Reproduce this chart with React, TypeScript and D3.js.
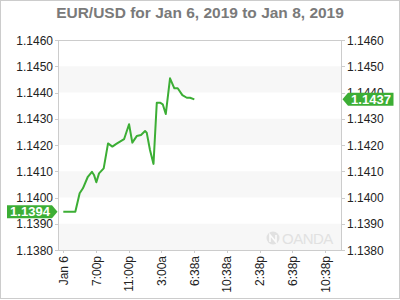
import React from "react";
import * as d3 from "d3";

const title = "EUR/USD for Jan 6, 2019 to Jan 8, 2019";
const xTickLabels = ["Jan 6", "7:00p", "11:00p", "3:00a", "6:38a", "10:38a", "2:38p", "6:38p", "10:38p"];
const xTickHours = [0, 4, 8, 12, 16, 20, 24, 28, 32];
const yTicks = [1.138, 1.139, 1.14, 1.141, 1.142, 1.143, 1.144, 1.145, 1.146];
const hours = [0, 1.47, 2.0, 2.4, 3.0, 3.5, 3.75, 4.04, 4.37, 4.94, 5.47, 6.0, 6.48, 7.43, 8.04, 8.44, 8.98, 9.5, 10.0, 10.2, 10.6, 11.03, 11.43, 11.83, 12.16, 12.53, 13.05, 13.58, 13.99, 14.56, 15.1, 15.5, 16.02];
const rates = [1.13946, 1.13946, 1.14016, 1.14035, 1.14079, 1.14098, 1.14086, 1.14058, 1.14092, 1.14111, 1.14206, 1.14194, 1.14204, 1.14222, 1.14279, 1.14209, 1.14234, 1.14238, 1.14253, 1.14247, 1.14181, 1.14128, 1.14361, 1.14361, 1.14355, 1.14318, 1.14454, 1.14416, 1.14416, 1.1439, 1.1438, 1.1438, 1.14374];
const openRate = 1.1394;
const lastRate = 1.1437;

const GREEN = "#3cae35";
const FONT = "Arial, 'Liberation Sans', sans-serif";

export default function App() {
  const W = 400, H = 300;
  const left = 58, right = 342, top = 40, bottom = 250;
  const x = d3.scaleLinear().domain([0, 32]).range([63.3, 325]);
  const y = d3.scaleLinear().domain([1.138, 1.146]).range([bottom, top]);
  const fmt = d3.format(".4f");
  const line = d3.line<number>().x((_, i) => x(hours[i])).y((d) => y(d));
  const bands = yTicks.filter((_, i) => i % 2 === 0 && i < yTicks.length - 1);

  const yOpen = y(rates[0]);
  const yLast = y(rates[rates.length - 1]);

  return (
    <svg width={W} height={H} style={{ position: "absolute", left: 0, top: 0 }} fontFamily={FONT}>
      <rect x={0} y={0} width={W} height={H} fill="#fff" />
      <rect x={0.5} y={0.5} width={W - 1} height={H - 2} fill="none" stroke="#cccccc" />
      <text x={200} y={18} textAnchor="middle" fontSize={15.5} fontWeight="bold" fill="#7a7a7a">{title}</text>
      {bands.map((b) => (
        <rect key={b} x={left} y={y(b + 0.001)} width={right - left} height={y(b) - y(b + 0.001)} fill="#f7f7f7" />
      ))}
      <rect x={left + 0.5} y={top + 0.5} width={right - left - 1} height={bottom - top} fill="none" stroke="#cccccc" />
      {yTicks.map((t) => (
        <g key={t}>
          <line x1={left - 3} x2={left} y1={Math.round(y(t)) + 0.5} y2={Math.round(y(t)) + 0.5} stroke="#cccccc" />
          <line x1={right} x2={right + 3} y1={Math.round(y(t)) + 0.5} y2={Math.round(y(t)) + 0.5} stroke="#cccccc" />
          <text x={53} y={y(t) + 4.5} textAnchor="end" fontSize={12} fill="#222">{fmt(t)}</text>
          <text x={347} y={y(t) + 4.5} textAnchor="start" fontSize={12} fill="#222">{fmt(t)}</text>
        </g>
      ))}
      {xTickHours.map((h, i) => (
        <g key={h}>
          <line x1={Math.round(x(h)) + 0.5} x2={Math.round(x(h)) + 0.5} y1={bottom} y2={bottom + 3} stroke="#cccccc" />
          <text transform={`translate(${x(h) + 4.5},${bottom + 6}) rotate(-90)`} textAnchor="end" fontSize={12} fill="#222">{xTickLabels[i]}</text>
        </g>
      ))}
      <g opacity={0.55}>
        <circle cx={273} cy={238} r={6.5} fill="#d0d0d0" />
        <path d="M270,242 L270,235 L276,242 L276,235" stroke="#fff" strokeWidth={1.6} fill="none" />
        <text x={282} y={244} fontSize={15} fill="#d0d0d0" letterSpacing={-0.5}>OANDA</text>
      </g>
      <path d={line(rates) || ""} fill="none" stroke={GREEN} strokeWidth={2} strokeLinejoin="round" />
      <path d={`M7,${yOpen - 6.5} H52 L57.5,${yOpen} L52,${yOpen + 6.5} H7 Z`} fill={GREEN} />
      <text x={30} y={yOpen + 4.5} textAnchor="middle" fontSize={13} fontWeight="bold" fill="#fff">{fmt(openRate)}</text>
      <path d={`M342.5,${yLast} L348,${yLast - 6.5} H393.5 V${yLast + 6.5} H348 Z`} fill={GREEN} />
      <text x={371} y={yLast + 4.5} textAnchor="middle" fontSize={13} fontWeight="bold" fill="#fff">{fmt(lastRate)}</text>
    </svg>
  );
}
